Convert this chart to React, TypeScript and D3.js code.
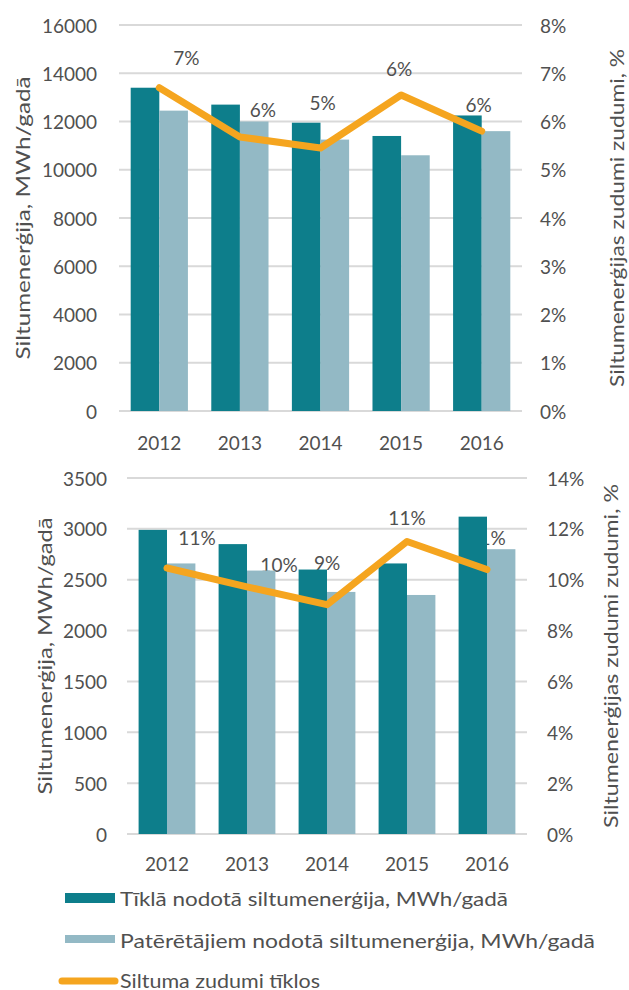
import React from "react";
import * as d3 from "d3";

const years = ["2012", "2013", "2014", "2015", "2016"];

// Top chart
const topNetwork = [13400, 12700, 11950, 11400, 12250];
const topConsumers = [12450, 12000, 11250, 10600, 11600];
const topLoss = [6.7, 5.68, 5.45, 6.55, 5.8];
const topLossLabels = ["7%", "6%", "5%", "6%", "6%"];
const topLeftTicks = [0, 2000, 4000, 6000, 8000, 10000, 12000, 14000, 16000];
const topRightTicks = [0, 1, 2, 3, 4, 5, 6, 7, 8];

// Bottom chart
const botNetwork = [2990, 2850, 2600, 2660, 3120];
const botConsumers = [2660, 2590, 2380, 2350, 2800];
const botLoss = [10.46, 9.72, 9.02, 11.5, 10.4];
const botLossLabels = ["11%", "10%", "9%", "11%", "11%"];
const botLeftTicks = [0, 500, 1000, 1500, 2000, 2500, 3000, 3500];
const botRightTicks = [0, 2, 4, 6, 8, 10, 12, 14];

const legendLabels = [
  "Tīklā nodotā siltumenerģija, MWh/gadā",
  "Patērētājiem nodotā siltumenerģija, MWh/gadā",
  "Siltuma zudumi tīklos",
];
const leftTitle = "Siltumenerģija, MWh/gadā";
const rightTitle = "Siltumenerģijas zudumi zudumi, %";

const DARK = "#0d7e8b";
const LIGHT = "#93b9c5";
const ORANGE = "#f5a51f";
const GRID = "#d9d9d9";
const TEXT = "#505050";
const FONT = "Lato, 'DejaVu Sans', sans-serif";

type PanelProps = {
  network: number[];
  consumers: number[];
  loss: number[];
  lossLabels: string[];
  leftTicks: number[];
  rightTicks: number[];
  leftMax: number;
  rightMax: number;
  x0: number;
  x1: number;
  yTop: number;
  yBottom: number;
  leftTickX: number;
  rightTickX: number;
  yearY: number;
  leftTitleX: number;
  leftTitleLen: number;
  rightTitleX: number;
  rightTitleLen: number;
  labelOffsets: [number, number][];
};

function Panel(p: PanelProps) {
  const x = d3.scaleBand<string>().domain(years).range([p.x0, p.x1]).paddingInner(0.29).paddingOuter(0.145);
  const sub = d3.scaleBand<string>().domain(["a", "b"]).range([0, x.bandwidth()]);
  const yL = d3.scaleLinear().domain([0, p.leftMax]).range([p.yBottom, p.yTop]);
  const yR = d3.scaleLinear().domain([0, p.rightMax]).range([p.yBottom, p.yTop]);
  const cx = (y: string) => (x(y) as number) + x.bandwidth() / 2;
  const line = d3
    .line<number>()
    .x((_, i) => cx(years[i]))
    .y((d) => yR(d));
  const midY = (p.yTop + p.yBottom) / 2;
  return (
    <g>
      {p.leftTicks.map((t) => (
        <line key={"g" + t} x1={p.x0} x2={p.x1} y1={yL(t)} y2={yL(t)} stroke={GRID} strokeWidth={2} />
      ))}
      {p.leftTicks.map((t) => (
        <text key={"l" + t} x={p.leftTickX} y={yL(t)} textAnchor="end" dominantBaseline="central" fontSize={19} fill={TEXT}>
          {t}
        </text>
      ))}
      {p.rightTicks.map((t) => (
        <text key={"r" + t} x={p.rightTickX} y={yR(t)} textAnchor="start" dominantBaseline="central" fontSize={19} fill={TEXT}>
          {t + "%"}
        </text>
      ))}
      {years.map((yr) => (
        <text key={"y" + yr} x={cx(yr)} y={p.yearY} textAnchor="middle" dominantBaseline="central" fontSize={19} fill={TEXT}>
          {yr}
        </text>
      ))}
      {p.loss.map((v, i) => (
        <text
          key={"dl" + i}
          x={cx(years[i]) + p.labelOffsets[i][0]}
          y={yR(v) + p.labelOffsets[i][1]}
          textAnchor="middle"
          dominantBaseline="central"
          fontSize={19}
          fill={TEXT}
        >
          {p.lossLabels[i]}
        </text>
      ))}
      {years.map((yr, i) => (
        <g key={"b" + yr}>
          <rect
            x={(x(yr) as number) + (sub("a") as number)}
            width={sub.bandwidth()}
            y={yL(p.network[i])}
            height={yL(0) - yL(p.network[i])}
            fill={DARK}
          />
          <rect
            x={(x(yr) as number) + (sub("b") as number)}
            width={sub.bandwidth()}
            y={yL(p.consumers[i])}
            height={yL(0) - yL(p.consumers[i])}
            fill={LIGHT}
          />
        </g>
      ))}
      <path d={line(p.loss) || ""} fill="none" stroke={ORANGE} strokeWidth={7} strokeLinejoin="round" strokeLinecap="round" />
      <text
        transform={`translate(${p.leftTitleX},${midY}) rotate(-90)`}
        textAnchor="middle"
        dominantBaseline="central"
        fontSize={20}
        fill={TEXT}
        textLength={p.leftTitleLen}
        lengthAdjust="spacingAndGlyphs"
      >
        {leftTitle}
      </text>
      <text
        transform={`translate(${p.rightTitleX},${midY}) rotate(-90)`}
        textAnchor="middle"
        dominantBaseline="central"
        fontSize={19}
        fill={TEXT}
        textLength={p.rightTitleLen}
        lengthAdjust="spacingAndGlyphs"
      >
        {rightTitle}
      </text>
    </g>
  );
}

export default function App() {
  return (
    <svg
      width={629}
      height={990}
      style={{ position: "absolute", left: 0, top: 0, fontFamily: FONT, background: "#fff" }}
    >
      <Panel
        network={topNetwork}
        consumers={topConsumers}
        loss={topLoss}
        lossLabels={topLossLabels}
        leftTicks={topLeftTicks}
        rightTicks={topRightTicks}
        leftMax={16000}
        rightMax={8}
        x0={119}
        x1={522}
        yTop={25}
        yBottom={411}
        leftTickX={97}
        rightTickX={540}
        yearY={442}
        leftTitleX={22}
        leftTitleLen={283}
        rightTitleX={616}
        rightTitleLen={338}
        labelOffsets={[
          [27, -30],
          [23, -27],
          [2, -46],
          [-2, -26],
          [-3, -27],
        ]}
      />
      <Panel
        network={botNetwork}
        consumers={botConsumers}
        loss={botLoss}
        lossLabels={botLossLabels}
        leftTicks={botLeftTicks}
        rightTicks={botRightTicks}
        leftMax={3500}
        rightMax={14}
        x0={127}
        x1={527}
        yTop={478}
        yBottom={834}
        leftTickX={107}
        rightTickX={547}
        yearY={863}
        leftTitleX={44}
        leftTitleLen={277}
        rightTitleX={610}
        rightTitleLen={344}
        labelOffsets={[
          [30, -31],
          [32, -22],
          [0, -42],
          [0, -24],
          [0, -32],
        ]}
      />
      {/* Legend */}
      <rect x={65} y={893} width={50} height={10} fill={DARK} />
      <text x={120} y={898} dominantBaseline="central" fontSize={20} fill={TEXT} textLength={388} lengthAdjust="spacingAndGlyphs">
        {legendLabels[0]}
      </text>
      <rect x={65} y={935} width={50} height={8} fill={LIGHT} />
      <text x={120} y={940} dominantBaseline="central" fontSize={20} fill={TEXT} textLength={475} lengthAdjust="spacingAndGlyphs">
        {legendLabels[1]}
      </text>
      <line x1={62} x2={115} y1={981} y2={981} stroke={ORANGE} strokeWidth={7} strokeLinecap="round" />
      <text x={120} y={980} dominantBaseline="central" fontSize={19} fill={TEXT} textLength={200} lengthAdjust="spacingAndGlyphs">
        {legendLabels[2]}
      </text>
    </svg>
  );
}
